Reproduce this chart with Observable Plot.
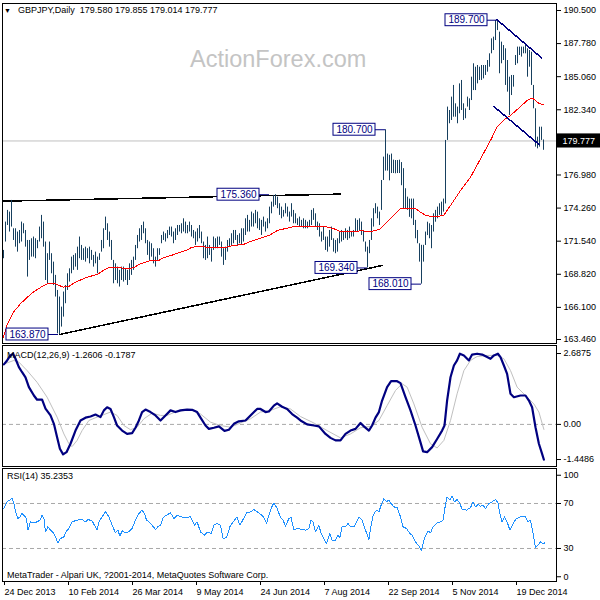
<!DOCTYPE html>
<html><head><meta charset="utf-8">
<script src="https://cdn.jsdelivr.net/npm/d3@7"></script>
<script src="https://cdn.jsdelivr.net/npm/@observablehq/plot@0.6"></script>
<style>
body{margin:0;background:#fff;}
#wrap{position:relative;width:600px;height:600px;overflow:hidden;font-family:"Liberation Sans",Arial,sans-serif;background:#fff;}
#wrap svg{position:absolute;left:0;top:0;}
.t{position:absolute;font-size:9px;color:#000;white-space:pre;line-height:1;}
</style></head><body><div id="wrap"></div>
<script>
// ---------- DATA ----------
const symbol = "GBPJPY,Daily";
const lastOHLC = [179.580, 179.855, 179.014, 179.777];
const lastClose = 179.777;
const barHigh = [170.78,173.11,174.07,173.93,174.89,172.56,172.56,172.29,172.42,173.11,172.97,172.42,171.60,171.60,171.74,171.88,171.74,171.60,172.70,173.66,
173.11,171.47,170.51,171.47,170.51,169.82,168.73,167.49,166.95,166.12,167.36,167.90,168.86,169.27,170.23,170.37,170.51,171.05,171.88,171.19,
170.92,171.05,170.92,171.05,170.78,170.37,170.64,170.23,170.51,171.60,172.56,173.52,172.97,172.29,171.60,169.96,169.68,169.41,169.14,169.41,
169.41,169.27,169.14,169.68,169.96,170.23,171.19,172.01,172.56,172.83,173.11,172.56,171.60,171.47,171.33,170.92,170.23,170.92,170.92,172.01,
172.29,172.15,172.42,172.70,172.70,172.29,172.56,172.83,172.83,172.97,173.38,173.11,172.83,173.11,172.83,172.42,172.29,172.56,172.83,172.29,
171.47,171.19,171.88,171.19,170.92,171.88,171.74,171.88,171.88,171.47,170.92,171.05,171.60,171.74,172.15,172.42,172.42,172.01,172.15,172.56,
172.56,173.38,173.66,173.25,173.93,173.79,174.07,173.93,173.38,173.25,173.52,173.11,173.38,174.34,174.75,175.30,175.36,175.16,174.62,174.34,
174.07,174.62,174.34,173.93,174.62,174.07,173.79,173.38,173.52,173.25,173.38,173.25,173.11,173.25,174.07,174.21,173.79,173.11,172.97,172.29,
172.70,171.88,171.88,172.42,172.70,171.74,171.60,171.74,172.29,172.42,172.29,172.56,172.42,172.70,172.29,172.42,173.38,173.25,173.38,173.11,
172.42,171.47,171.05,171.60,173.38,174.21,174.62,174.34,173.93,176.53,178.45,180.70,178.70,178.60,178.70,178.20,178.17,178.17,178.20,178.00,
177.50,175.85,175.16,175.00,175.00,175.00,173.25,172.42,171.33,171.20,171.20,172.29,173.10,172.97,172.83,173.79,174.07,174.34,174.62,174.75,
175.00,179.82,182.56,182.28,183.38,184.34,182.83,182.56,184.47,184.75,182.83,182.42,183.38,183.24,185.02,186.12,185.84,185.98,185.84,185.98,
185.98,185.98,186.39,186.94,188.17,188.31,189.68,189.70,188.72,187.90,187.62,187.35,186.39,185.02,185.16,185.16,186.80,187.49,187.49,187.49,
187.49,187.76,187.35,187.21,187.07,184.34,182.42,180.09,180.91,180.91,179.86];
const barLow = [170.10,171.47,172.83,172.29,172.70,171.60,171.05,170.64,171.33,171.47,172.15,171.05,168.59,169.96,170.23,170.23,170.10,170.92,171.47,171.74,
171.05,168.31,168.04,169.96,168.86,167.90,166.95,163.93,163.87,164.48,165.30,166.40,167.49,168.18,168.86,169.14,169.41,169.14,170.10,169.96,
169.96,169.82,170.10,169.68,169.96,169.41,169.68,168.86,169.96,170.64,170.92,172.42,171.60,171.05,169.96,168.04,168.31,168.04,167.77,168.31,
168.18,168.31,167.90,168.31,168.73,169.14,169.96,170.92,171.47,171.60,172.15,171.33,170.37,169.96,170.23,169.68,169.41,169.96,170.37,171.33,
171.60,171.47,171.74,172.01,171.88,171.33,171.60,172.01,172.29,172.15,172.29,172.15,172.15,172.29,171.88,171.74,171.19,171.47,171.74,171.33,
170.10,169.96,170.10,170.37,169.82,170.78,170.92,170.92,171.19,170.23,169.55,169.96,170.64,171.05,171.19,171.33,171.60,171.19,171.33,171.19,
171.47,172.01,172.29,172.29,172.70,172.70,172.97,172.56,172.42,172.01,172.70,172.29,172.56,172.97,173.79,174.34,174.48,174.21,173.66,173.38,
173.52,173.79,173.52,173.11,173.52,172.97,172.97,172.83,172.70,172.70,172.56,172.56,172.56,172.70,172.83,173.25,172.70,172.42,171.88,171.47,
171.60,170.78,170.64,171.05,171.60,170.64,170.51,170.64,171.33,171.47,171.60,171.74,171.60,171.74,171.88,171.88,172.29,172.29,172.42,172.01,
171.47,170.64,169.34,170.51,171.60,172.70,173.79,173.38,172.83,174.07,176.53,177.30,177.30,176.50,177.10,177.10,177.08,177.10,177.10,176.10,
174.20,174.20,174.07,173.50,173.38,172.83,171.74,171.33,169.82,168.01,169.82,171.19,172.00,171.74,170.92,172.29,173.10,173.38,173.66,173.66,
173.93,174.60,179.82,181.19,181.46,181.73,181.73,181.19,182.01,182.28,181.46,181.60,182.56,182.28,183.10,183.92,183.92,184.47,184.75,184.75,
184.88,185.16,185.43,185.84,186.94,187.21,188.03,188.85,185.30,186.12,186.39,184.34,183.79,181.87,183.51,184.20,185.98,186.12,186.80,186.67,
186.94,186.94,185.02,185.84,184.34,182.42,179.27,179.13,179.27,179.82,179.01];
const maPts = [[0,163.66],[2,164.75],[5,165.71],[8.5,166.40],[12,166.95],[15,167.36],[19.3,167.82],[22.7,168.10],[25,168.10],[27.7,167.90],[30,167.77],[32.7,167.82],[36,168.18],[42,168.59],[47,168.81],[50,169.14],[52.7,169.36],[58.5,169.36],[62,169.27],[65,169.36],[68.5,169.68],[73.5,169.96],[77.7,169.96],[80,170.18],[85,170.43],[92,170.84],[94.3,171.05],[98.5,171.11],[103.5,171.0],[110,171.0],[115,171.19],[120,171.27],[123.5,171.52],[128.5,171.79],[132.7,172.01],[137,172.42],[142,172.62],[145.2,172.75],[151.8,172.78],[158.5,172.78],[161.8,172.70],[165.2,172.56],[168.5,172.34],[176.8,172.34],[179.3,172.42],[182.7,172.29],[186,172.42],[188.5,172.56],[191.8,173.11],[195.2,173.66],[198.5,174.21],[200.2,174.26],[203.5,174.26],[206,174.21],[208.5,173.93],[211,173.66],[213.5,173.58],[216.8,173.58],[220.2,173.66],[221.8,174.07],[225.2,174.89],[228.5,175.71],[233.5,176.8],[238.5,178.3],[243.5,179.82],[246.8,180.91],[251,181.6],[253.5,181.87],[258.5,182.61],[261.8,183.1],[264.3,183.32],[265.5,183.16],[267.7,182.88],[270.2,182.75]];
const resistLine = [[0,174.83],[168.5,175.41]];
const supportLine = [[28,163.87],[189.5,169.55]];
const channelTop = [[246.8,189.73],[269,186.61]];
const channelBottom = [[245.2,182.61],[267.7,179.49]];
const labelAt = [27.5,133,182,209,191,247];
const labelPrice = [163.87,175.36,169.34,168.01,180.70,189.70];
const priceTicks = [190.5,187.78,185.06,182.34,176.98,174.26,171.54,168.82,166.1,163.46];

const macdLast = [-1.2606, -0.1787];
const macdPts = [[0.2,2.14],[1.8,2.28],[3.5,2.46],[4.8,2.52],[6,2.34],[7.7,2.04],[9.3,1.86],[11,1.68],[12.7,1.33],[15.2,1.03],[16.8,0.88],[19.3,0.88],[21,0.56],[23.5,0.32],[25.2,0.02],[26.8,-0.46],[28.2,-0.87],[29.8,-1.07],[31.5,-0.99],[33.5,-0.69],[36,-0.22],[38.5,0.14],[41,0.24],[43.5,0.28],[46,0.35],[48.5,0.26],[50.2,0.50],[51.8,0.61],[53.5,0.55],[55.2,0.26],[56.8,-0.04],[59.3,-0.22],[61.8,-0.34],[64.3,-0.31],[66,-0.12],[67.7,0.14],[69.3,0.44],[71,0.53],[73.5,0.44],[76,0.32],[78.5,0.14],[81,0.32],[83.5,0.50],[86,0.44],[88.5,0.50],[91.8,0.53],[94.3,0.52],[96.8,0.44],[98.5,0.24],[101,-0.04],[102.7,-0.16],[105.2,-0.12],[107.7,-0.07],[110.5,-0.23],[112.7,-0.19],[115.2,0.02],[117.7,0.11],[121,0.14],[123.5,0.32],[126.8,0.55],[128.5,0.55],[131,0.44],[132.7,0.46],[135.2,0.67],[136.8,0.75],[139.3,0.63],[141.8,0.55],[144.3,0.37],[146.8,0.24],[148.5,0.14],[151.8,0.00],[155.2,-0.04],[157.7,-0.07],[161,-0.34],[163.5,-0.48],[166,-0.57],[168.5,-0.57],[171,-0.34],[173.5,-0.22],[176,-0.16],[178.5,0.05],[180.2,-0.07],[182.7,-0.22],[184.3,-0.04],[186,0.24],[187.7,0.44],[189.3,0.85],[191.8,1.33],[193.8,1.54],[196.8,1.54],[198.5,1.47],[201,0.97],[203.5,0.50],[206,-0.04],[208.2,-0.57],[209.8,-0.96],[211.8,-0.99],[214.3,-0.81],[216.8,-0.52],[219.3,-0.22],[220.5,-0.04],[221.8,0.85],[223.5,1.68],[225.2,2.10],[226.8,2.28],[228.2,2.52],[230.2,2.46],[232.7,2.28],[234.3,2.49],[236.8,2.52],[239.3,2.49],[241.8,2.40],[243.5,2.34],[245.2,2.46],[247.2,2.52],[248.5,2.40],[250.2,2.10],[251.8,1.80],[253.5,1.09],[255.2,0.97],[258.5,1.03],[261,1.03],[262.7,0.85],[264.3,0.61],[266,-0.10],[267.7,-0.69],[269.3,-1.05],[270.2,-1.26]];
const signalPts = [[0.5,2.16],[5.2,2.28],[7.7,2.22],[11.8,1.92],[16.8,1.50],[21.8,0.97],[26.8,0.26],[30.2,-0.34],[32.7,-0.69],[34.3,-0.79],[36.8,-0.57],[39.3,-0.22],[42.7,0.14],[46.8,0.26],[50.2,0.35],[53.5,0.44],[56.8,0.32],[60.2,-0.04],[63.5,-0.19],[66.8,-0.10],[70.2,0.20],[74.3,0.40],[78.5,0.32],[81.8,0.32],[86.8,0.47],[93.5,0.52],[98.5,0.37],[103.5,0.08],[108.5,-0.04],[113.5,-0.10],[118.5,0.05],[123.5,0.20],[128.5,0.44],[133.5,0.50],[138.5,0.63],[143.5,0.55],[148.5,0.28],[155.2,0.05],[161.8,-0.22],[168.5,-0.48],[173.5,-0.34],[178.5,-0.12],[183.5,-0.07],[187.7,0.14],[191.8,0.67],[196,1.21],[199.3,1.45],[201.8,1.33],[205.2,0.73],[209.3,-0.10],[213.5,-0.69],[216.8,-0.84],[220.2,-0.57],[223.5,0.14],[226.8,1.09],[230.2,1.92],[233.5,2.28],[236.8,2.42],[241.8,2.46],[246.8,2.46],[250.2,2.34],[253.5,1.92],[256.8,1.33],[261.8,0.97],[265.2,0.73],[267.7,0.44],[270.2,-0.18]];
const macdTicks = [2.6875, 0, -1.4486];

const rsiLast = 35.2353;
const rsiPts = [[0.2,65.6],[1.8,71.5],[3.5,73.6],[4.3,74.4],[5.2,70],[6,62.6],[7.2,56.7],[8.2,58.1],[9.3,61.1],[10.2,59.6],[11.5,56.7],[12.2,46.3],[13.5,53.7],[15.2,52.8],[16.8,53.7],[18.2,55.2],[19.3,59.6],[20.2,56.7],[21,44.8],[22.2,49.3],[23.5,46.3],[25.2,43.3],[26,40.4],[27.2,35.0],[28.5,38.9],[30.2,40.4],[31.5,45.7],[32.7,47.8],[34.3,53.7],[36.8,55.2],[39.3,55.8],[41,53.7],[42.2,55.8],[44.3,54.6],[46.8,46.3],[47.7,53.7],[49.3,58.1],[51,62.6],[52.7,58.1],[54.3,50.7],[56,43.9],[57.2,46.3],[58.2,41.0],[59.3,45.7],[61,43.9],[62.7,44.8],[64.3,47.8],[66,55.2],[67.7,61.1],[69.3,64.1],[70.5,61.1],[71.5,55.2],[72.7,53.7],[74.3,50.7],[76,46.9],[77.2,49.3],[78.5,50.7],[79.8,57.6],[81.5,59.6],[83.5,61.7],[85.2,56.7],[86.8,59.6],[88.5,58.1],[91,57.6],[93.5,58.1],[95.5,50.7],[96.8,53.7],[98.5,44.8],[100.5,41.9],[102.2,44.8],[103.8,43.3],[105.2,50.7],[106.8,52.2],[108.5,50.7],[109.8,38.9],[111.5,39.8],[113.2,49.3],[114.8,53.7],[116.8,58.1],[118.2,50.7],[119.8,55.8],[121.5,61.7],[123.5,62.6],[125.2,64.7],[126.8,62.6],[128.5,60.5],[130.2,57.6],[131.5,52.2],[132.7,59.6],[133.8,65.6],[135.2,70.6],[136.8,65.6],[138.5,57.6],[139.8,55.2],[141,49.9],[142.7,56.7],[143.8,57.6],[145.2,46.3],[146.8,47.8],[148.5,47.3],[151,46.3],[152.7,47.8],[153.8,55.2],[154.8,53.7],[156,44.8],[157.7,50.7],[158.8,43.3],[160.2,38.9],[161.5,34.4],[163.2,43.3],[164.3,37.4],[166,37.4],[167.2,41.9],[168.2,39.8],[169.3,49.3],[171,49.3],[172.2,52.2],[173.5,49.3],[175.2,49.3],[176.5,53.7],[177.7,58.1],[179.3,55.2],[181,46.3],[182.7,38.0],[183.8,50.7],[184.8,59.6],[186.5,64.1],[187.7,62.6],[188.8,68.5],[190.2,74.4],[191.5,71.5],[192.7,73.0],[193.8,70.0],[195.2,67.0],[196.8,66.4],[198.5,58.1],[199.8,49.3],[201.5,47.8],[203.2,43.3],[204.3,41.9],[206,35.9],[207.7,32.1],[209,28.5],[210.5,38.9],[212.2,45.7],[213.5,43.9],[214.8,49.3],[216.8,52.8],[218.5,53.7],[219.8,55.2],[220.5,64.1],[221.8,75.9],[223.2,73.0],[224.3,76.5],[225.5,71.5],[226.8,73.6],[228.2,70.0],[229.3,64.7],[231.5,64.1],[233.5,66.4],[234.8,71.5],[236,67.0],[237.2,69.1],[238.5,67.6],[239.8,68.5],[241,65.6],[242.7,70.0],[244.3,71.5],[246,73.6],[247.2,70.6],[248.2,61.1],[249.3,53.7],[250.5,58.1],[251.8,53.7],[253.2,46.3],[254.8,52.2],[256.5,56.7],[258.5,58.1],[261,58.1],[262.2,53.7],[263.5,55.2],[264.8,43.3],[266,30.9],[267.2,33.0],[268.5,35.9],[269.8,33.9],[270.7,35.2]];
const rsiLevels = [70, 30];

const dateIdx = [0,32,64,96,128,160,192,224,256];
const dateLabels = ["24 Dec 2013","10 Feb 2014","26 Mar 2014","9 May 2014","24 Jun 2014","7 Aug 2014","22 Sep 2014","5 Nov 2014","19 Dec 2014"];

// ---------- DRAW ----------
const wrap = document.getElementById("wrap");
const FONT = '"Liberation Sans", Arial, sans-serif';
const NAVY = "#000080";
const BAR = "#17405f";
const CRISP = "crispEdges";
const common = {
  width: 600, height: 600, marginLeft: 2, marginRight: 44,
  style: {background: "transparent", fontFamily: FONT, fontSize: "9px", color: "black", overflow: "visible"}
};
const xDom = [-0.5, 276.5];
const bars = barHigh.map((h, i) => ({i, high: h, low: barLow[i]}));
const labels = labelAt.map((a, k) => ({a, p: labelPrice[k]}));
const P = d => d[0], V = d => d[1];

const price = Plot.plot({
  ...common, marginTop: 3, marginBottom: 257,
  x: {domain: xDom, axis: null},
  y: {domain: [163.131, 191.075]},
  marks: [
    Plot.ruleY([lastClose], {stroke: "#c0c0c0"}),
    Plot.line(resistLine, {x: P, y: V, stroke: "black", shapeRendering: CRISP}),
    Plot.line(supportLine, {x: P, y: V, stroke: "black", shapeRendering: CRISP}),
    Plot.ruleX(bars, {x: "i", y1: "low", y2: "high", stroke: BAR, strokeWidth: 1}),
    Plot.line(maPts, {x: P, y: V, stroke: "red", strokeWidth: 1, shapeRendering: CRISP}),
    Plot.line(channelTop, {x: P, y: V, stroke: NAVY, shapeRendering: CRISP}),
    Plot.line(channelBottom, {x: P, y: V, stroke: NAVY, shapeRendering: CRISP}),
    Plot.ruleY(labels, {y: "p", x1: d => d.a - 5, x2: "a", stroke: NAVY}),
    Plot.rect(labels, {x1: d => d.a - 26, x2: d => d.a - 5, y1: d => d.p - 0.49, y2: d => d.p + 0.49, fill: "white", stroke: NAVY}),
    Plot.text(labels, {x: d => d.a - 15.5, y: "p", text: d => d.p.toFixed(3), fill: NAVY, fontSize: 10}),
    Plot.frame({stroke: "black"}),
    Plot.axisY(priceTicks, {anchor: "right", tickSize: 4, tickPadding: 3, tickFormat: d3.format(".3f"), label: null}),
    Plot.rect([lastClose], {x1: 276.5, x2: 298.5, y1: d => d - 0.58, y2: d => d + 0.58, fill: "black"}),
    Plot.text([lastClose], {x: 276.5, y: d => d, dx: 6, textAnchor: "start", text: d => d.toFixed(3), fill: "white"})
  ]
});

const macd = Plot.plot({
  ...common, marginTop: 345, marginBottom: 134,
  x: {domain: xDom, axis: null},
  y: {domain: [-1.501, 2.813]},
  marks: [
    Plot.ruleY([0], {stroke: "#a8a8a8", strokeDasharray: "4,3"}),
    Plot.line(signalPts, {x: P, y: V, stroke: "#c0c0c0", strokeWidth: 1}),
    Plot.line(macdPts, {x: P, y: V, stroke: NAVY, strokeWidth: 2.2}),
    Plot.frame({stroke: "black"}),
    Plot.axisY([macdTicks[0]], {anchor: "right", tickSize: 4, tickPadding: 3, dy: 4.5, tickFormat: d => d.toFixed(4), label: null}),
    Plot.axisY([macdTicks[1]], {anchor: "right", tickSize: 4, tickPadding: 3, tickFormat: d => d.toFixed(2), label: null}),
    Plot.axisY([macdTicks[2]], {anchor: "right", tickSize: 4, tickPadding: 3, dy: -5.5, tickFormat: d => d.toFixed(4), label: null})
  ]
});

const rsi = Plot.plot({
  ...common, marginTop: 468, marginBottom: 19,
  x: {domain: xDom},
  y: {domain: [0.667, 101.11]},
  marks: [
    Plot.ruleY(rsiLevels, {stroke: "#a8a8a8", strokeDasharray: "4,3"}),
    Plot.line(rsiPts, {x: P, y: V, stroke: "#1e90ff", strokeWidth: 1, shapeRendering: CRISP}),
    Plot.frame({stroke: "black"}),
    Plot.axisY(rsiLevels, {anchor: "right", tickSize: 4, tickPadding: 3, label: null}),
    Plot.axisY([100], {anchor: "right", tickSize: 4, tickPadding: 3, dy: 5.5, label: null}),
    Plot.axisY([0], {anchor: "right", tickSize: 4, tickPadding: 3, dy: -5.5, label: null}),
    Plot.axisX(dateIdx, {anchor: "bottom", tickSize: 4, tickPadding: 3, textAnchor: "start", dx: 1, tickFormat: (d, k) => dateLabels[dateIdx.indexOf(d)], label: null})
  ]
});

[price, macd, rsi].forEach(s => wrap.appendChild(s));

function addText(txt, left, top, extra) {
  const d = document.createElement("div");
  d.className = "t";
  d.textContent = txt;
  d.style.left = left + "px";
  d.style.top = top + "px";
  if (extra) Object.assign(d.style, extra);
  wrap.appendChild(d);
}
addText("ActionForex.com", 190, 48, {fontSize: "23.5px", color: "#c4c4c4"});
addText("\u25BC", 4, 7, {fontSize: "7px"});
addText(symbol + "  " + lastOHLC.map(v => v.toFixed(3)).join(" "), 18, 6);
addText("MACD(12,26,9) " + macdLast.map(v => v.toFixed(4)).join(" "), 7, 350.5);
addText("RSI(14) " + rsiLast.toFixed(4), 7, 472.3);
addText("MetaTrader - Alpari UK, ?2001-2014, MetaQuotes Software Corp.", 7, 570.6);
</script></body></html>
